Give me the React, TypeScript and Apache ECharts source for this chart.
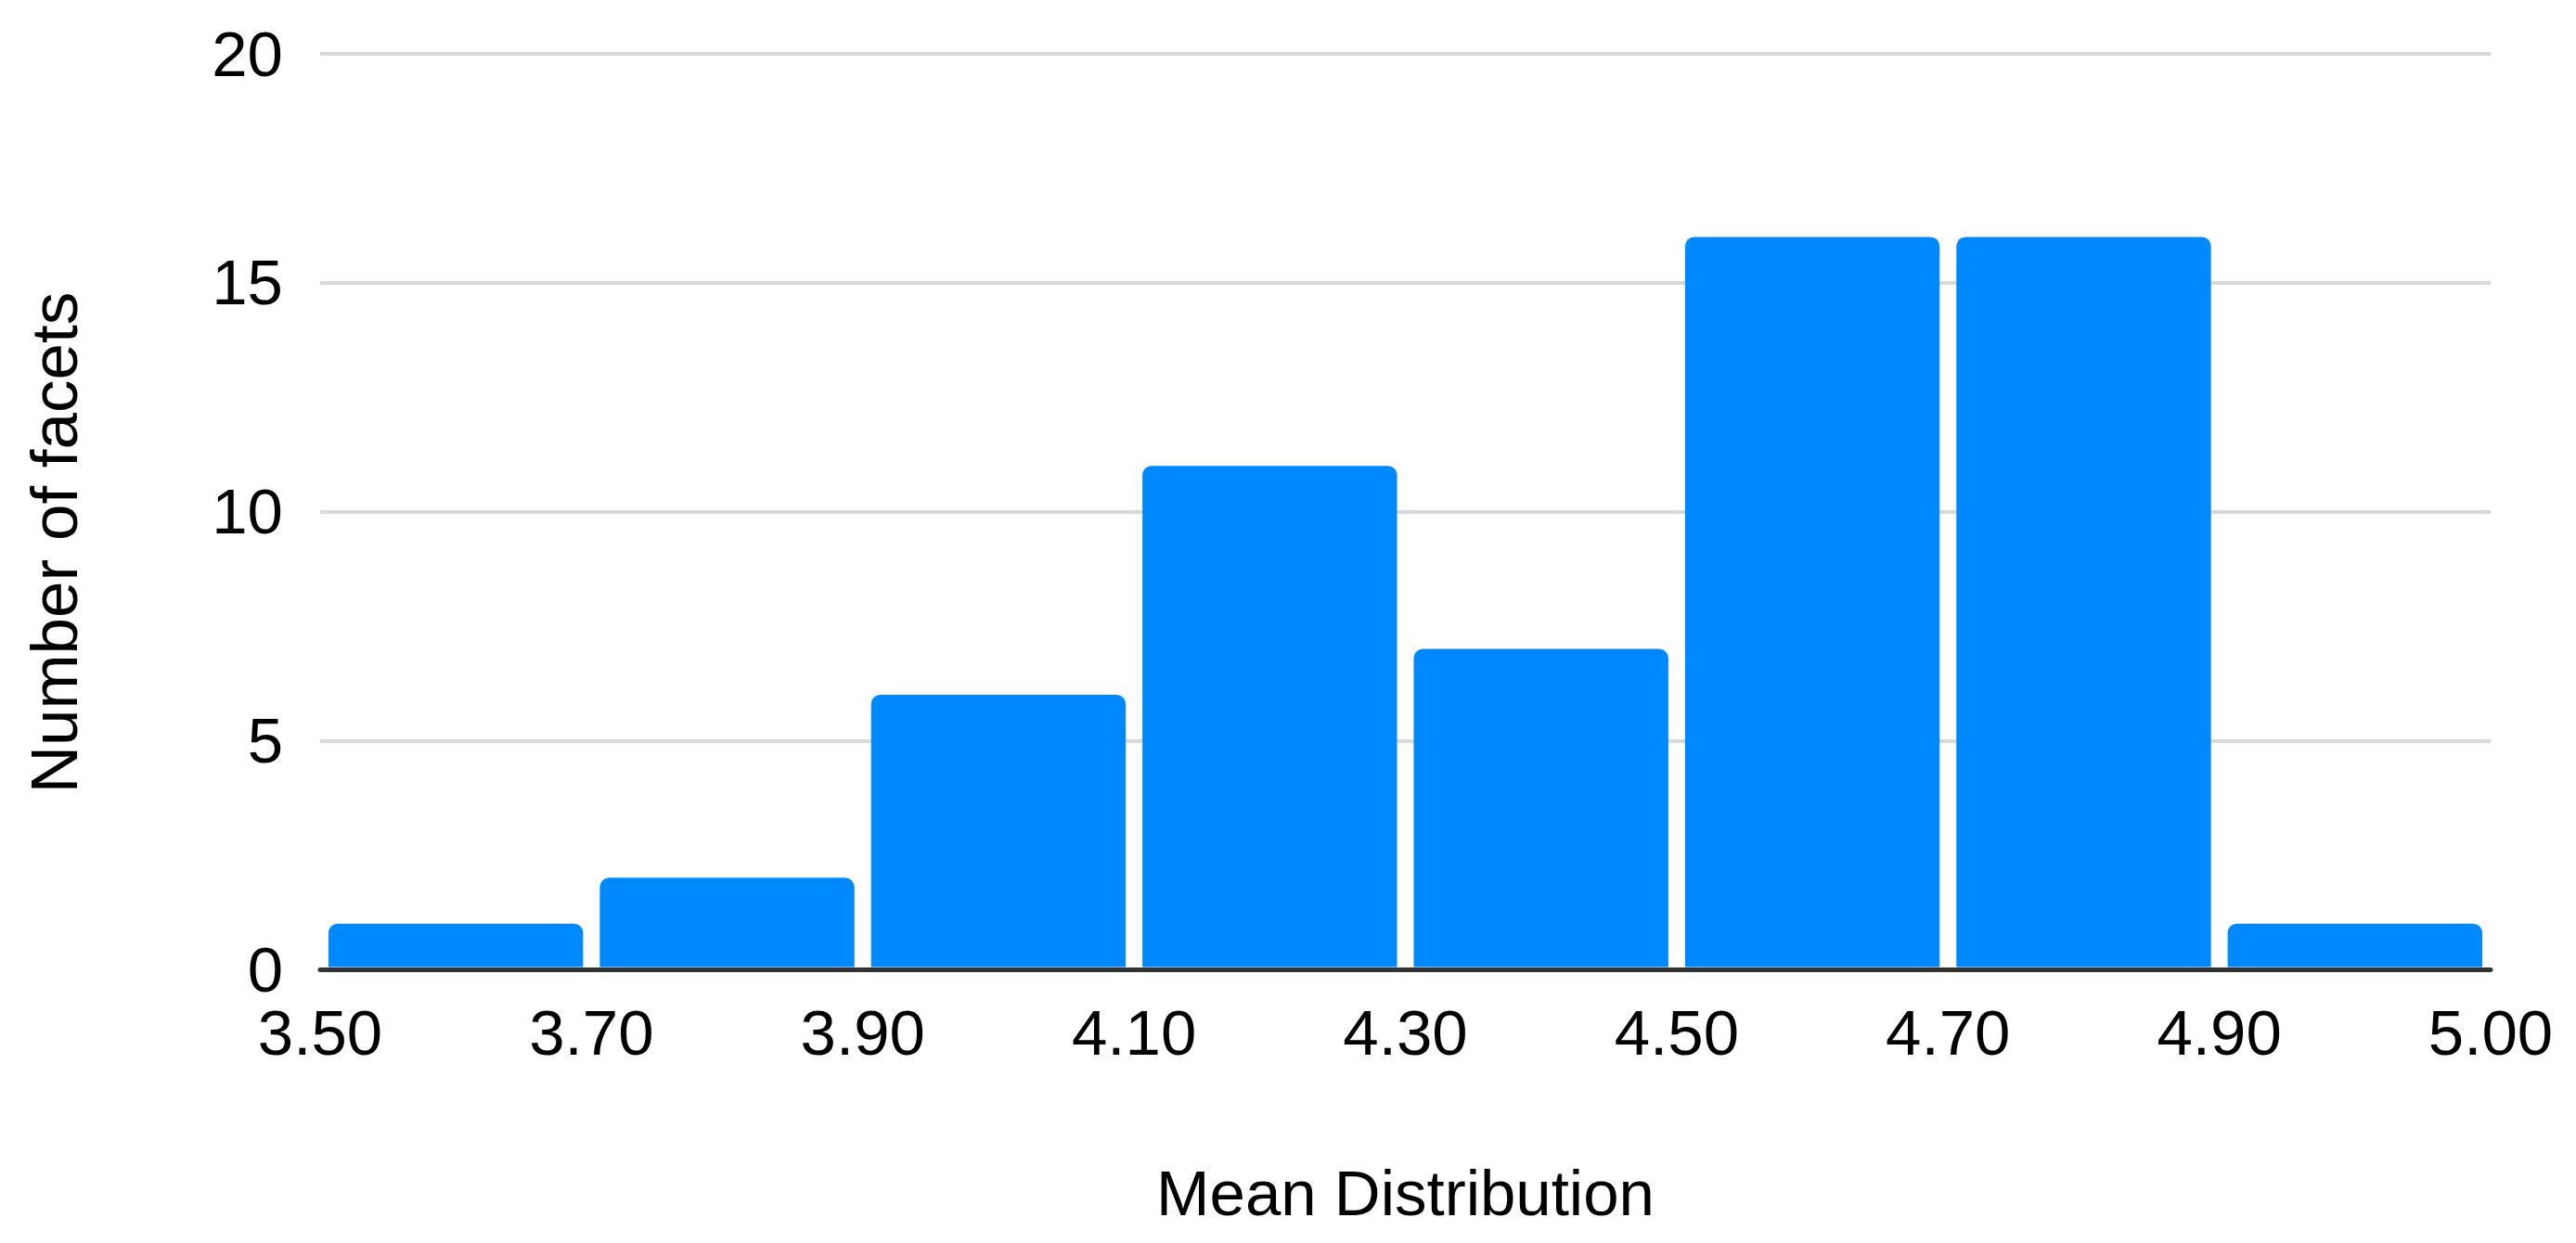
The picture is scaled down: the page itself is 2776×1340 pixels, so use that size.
import React, { useEffect, useRef } from "react";
import * as echarts from "echarts";

const tickLabels = ["3.50", "3.70", "3.90", "4.10", "4.30", "4.50", "4.70", "4.90", "5.00"];
const counts = [1, 2, 6, 11, 7, 16, 16, 1];
const yTicks = [0, 5, 10, 15, 20];
const xTitle = "Mean Distribution";
const yTitle = "Number of facets";

const FONT = "'Liberation Sans', Arial, Helvetica, sans-serif";
const BAR_COLOR = "#0088FF";

export default function App() {
  const ref = useRef<HTMLDivElement>(null);
  useEffect(() => {
    document.body.style.margin = "0";
    if (!ref.current) return;
    const chart = echarts.init(ref.current, null, { renderer: "svg" });
    const data = counts.map((c, i) => [i, i + 1, c]);
    chart.setOption({
      animation: false,
      backgroundColor: "#ffffff",
      grid: { left: 345, right: 92, top: 58, bottom: 295, containLabel: false },
      xAxis: {
        type: "value",
        min: 0,
        max: tickLabels.length - 1,
        interval: 1,
        name: xTitle,
        nameLocation: "middle",
        nameGap: 207,
        nameTextStyle: { fontFamily: FONT, fontSize: 69, color: "#000" },
        axisLine: { show: true, lineStyle: { color: "#333333", width: 5 } },
        axisTick: { show: false },
        splitLine: { show: false },
        axisLabel: {
          fontFamily: FONT,
          fontSize: 69,
          color: "#000",
          margin: 34,
          formatter: (v: number) => tickLabels[Math.round(v)] ?? "",
        },
      },
      yAxis: {
        type: "value",
        min: yTicks[0],
        max: yTicks[yTicks.length - 1],
        interval: 5,
        axisLine: { show: false },
        axisTick: { show: false },
        splitLine: { show: true, lineStyle: { color: "#d9d9d9", width: 4 } },
        axisLabel: { fontFamily: FONT, fontSize: 69, color: "#000", margin: 40 },
      },
      graphic: [
        {
          type: "text",
          x: 58,
          y: 585,
          rotation: Math.PI / 2,
          style: {
            text: yTitle,
            fontFamily: FONT,
            fontSize: 71,
            fill: "#000",
            align: "center",
            verticalAlign: "middle",
          },
        },
      ],
      series: [
        {
          type: "custom",
          data,
          encode: { x: [0, 1], y: 2 },
          renderItem: (params: any, api: any) => {
            const p0 = api.coord([api.value(0), 0]);
            const p1 = api.coord([api.value(1), api.value(2)]);
            const inset = 9;
            return {
              type: "rect",
              shape: {
                x: p0[0] + inset,
                y: p1[1],
                width: p1[0] - p0[0] - inset * 2,
                height: p0[1] - 2.5 - p1[1],
                r: [10, 10, 0, 0],
              },
              style: { fill: BAR_COLOR },
            };
          },
        },
      ],
    });
    return () => chart.dispose();
  }, []);
  return <div ref={ref} style={{ width: 2776, height: 1340 }} />;
}
